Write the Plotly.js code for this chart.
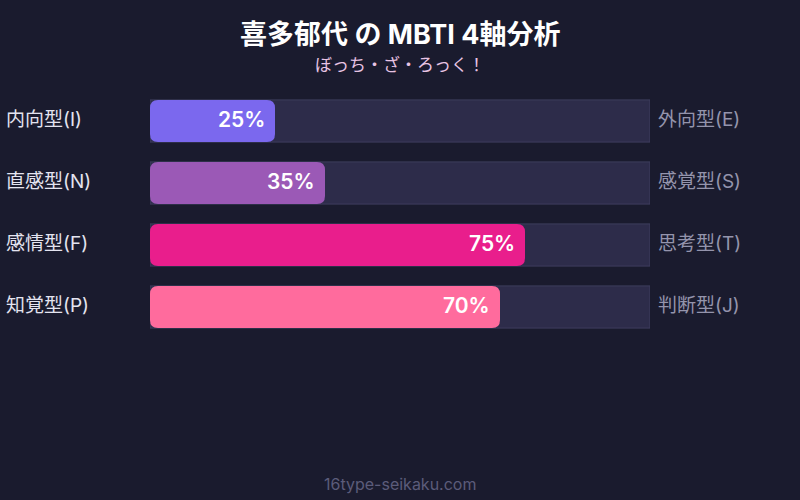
<!DOCTYPE html>
<html>
<head>
<meta charset="utf-8">
<script src="https://cdn.plot.ly/plotly-3.0.1.min.js"></script>
<style>
  html, body { margin: 0; padding: 0; background: #1a1b2e; }
  #chart { width: 800px; height: 500px; }
</style>
</head>
<body>
<div id="chart"></div>
<script>
// MBTI axes: left pole / right pole and the left-pole percentage
const leftLabels = ['内向型(I)', '直感型(N)', '感情型(F)', '知覚型(P)'];
const rightLabels = ['外向型(E)', '感覚型(S)', '思考型(T)', '判断型(J)'];
const leftValues = [25, 35, 75, 70];
const barColors = ['#7b68ee', '#9b59b6', '#e91e8c', '#ff6b9d'];
const rows = leftLabels.map((_, i) => i);

const FONT = 'Inter, "Noto Sans CJK JP", sans-serif';
const BAR_H = 0.68;
// corner radius in axis units (~8px: 5px per x unit, 62px per row)
const RX = 1.6, RY = 0.13;

// background track (full 100%)
const track = {
  type: 'bar',
  orientation: 'h',
  y: rows,
  x: rows.map(() => 100),
  width: BAR_H,
  marker: { color: '#2d2c4a', line: { color: '#3e3d5e', width: 1 } },
  hoverinfo: 'skip'
};

// rounded bar outline in data coordinates
function roundedBar(x0, x1, yc, h) {
  const y0 = yc - h / 2, y1 = yc + h / 2;
  return `M ${x0 + RX},${y0} L ${x1 - RX},${y0} Q ${x1},${y0} ${x1},${y0 + RY}` +
    ` L ${x1},${y1 - RY} Q ${x1},${y1} ${x1 - RX},${y1}` +
    ` L ${x0 + RX},${y1} Q ${x0},${y1} ${x0},${y1 - RY}` +
    ` L ${x0},${y0 + RY} Q ${x0},${y0} ${x0 + RX},${y0} Z`;
}

const shapes = rows.map(i => ({
  type: 'path',
  xref: 'x', yref: 'y',
  path: roundedBar(0, leftValues[i], i, BAR_H),
  fillcolor: barColors[i],
  line: { width: 0 },
  layer: 'above'
}));

const annotations = [];
rows.forEach(i => {
  annotations.push({
    xref: 'x', yref: 'y', x: leftValues[i], y: i,
    text: leftValues[i] + '%',
    xanchor: 'right', xshift: -8, yshift: 2, showarrow: false,
    font: { family: FONT, size: 21, color: '#ffffff', weight: 600 }
  });
  annotations.push({
    xref: 'paper', yref: 'y', x: -0.3, y: i, xshift: 4, yshift: 2,
    text: leftLabels[i], xanchor: 'left', showarrow: false,
    font: { family: FONT, size: 19, color: '#e4e4f0' }
  });
  annotations.push({
    xref: 'paper', yref: 'y', x: 1, y: i, xshift: 6, yshift: 2,
    text: rightLabels[i], xanchor: 'left', showarrow: false,
    font: { family: FONT, size: 19, color: '#9494ac' }
  });
});

// title, subtitle, footer
annotations.push({
  xref: 'paper', yref: 'paper', x: 0.5, y: 1, yshift: 56, yanchor: 'middle',
  text: '<b>喜多郁代 の MBTI 4軸分析</b>', showarrow: false,
  font: { family: FONT, size: 27, color: '#ffffff' }
});
annotations.push({
  xref: 'paper', yref: 'paper', x: 0.5, y: 1, yshift: 25, yanchor: 'middle',
  text: 'ぼっち・ざ・ろっく！', showarrow: false,
  font: { family: FONT, size: 17, color: '#e8c4e4' }
});
annotations.push({
  xref: 'paper', yref: 'paper', x: 0.5, y: 0, yshift: -146, yanchor: 'middle',
  text: '16type-seikaku.com', showarrow: false,
  font: { family: FONT, size: 16, color: '#5c5c7a' }
});

const layout = {
  width: 800,
  height: 500,
  paper_bgcolor: '#1a1b2e',
  plot_bgcolor: '#1a1b2e',
  margin: { l: 150, r: 150, t: 90, b: 162 },
  showlegend: false,
  xaxis: { range: [0, 100], visible: false, fixedrange: true },
  yaxis: { range: [3.5, -0.5], visible: false, fixedrange: true },
  shapes: shapes,
  annotations: annotations
};

Plotly.newPlot('chart', [track], layout, { staticPlot: true });
</script>
</body>
</html>
